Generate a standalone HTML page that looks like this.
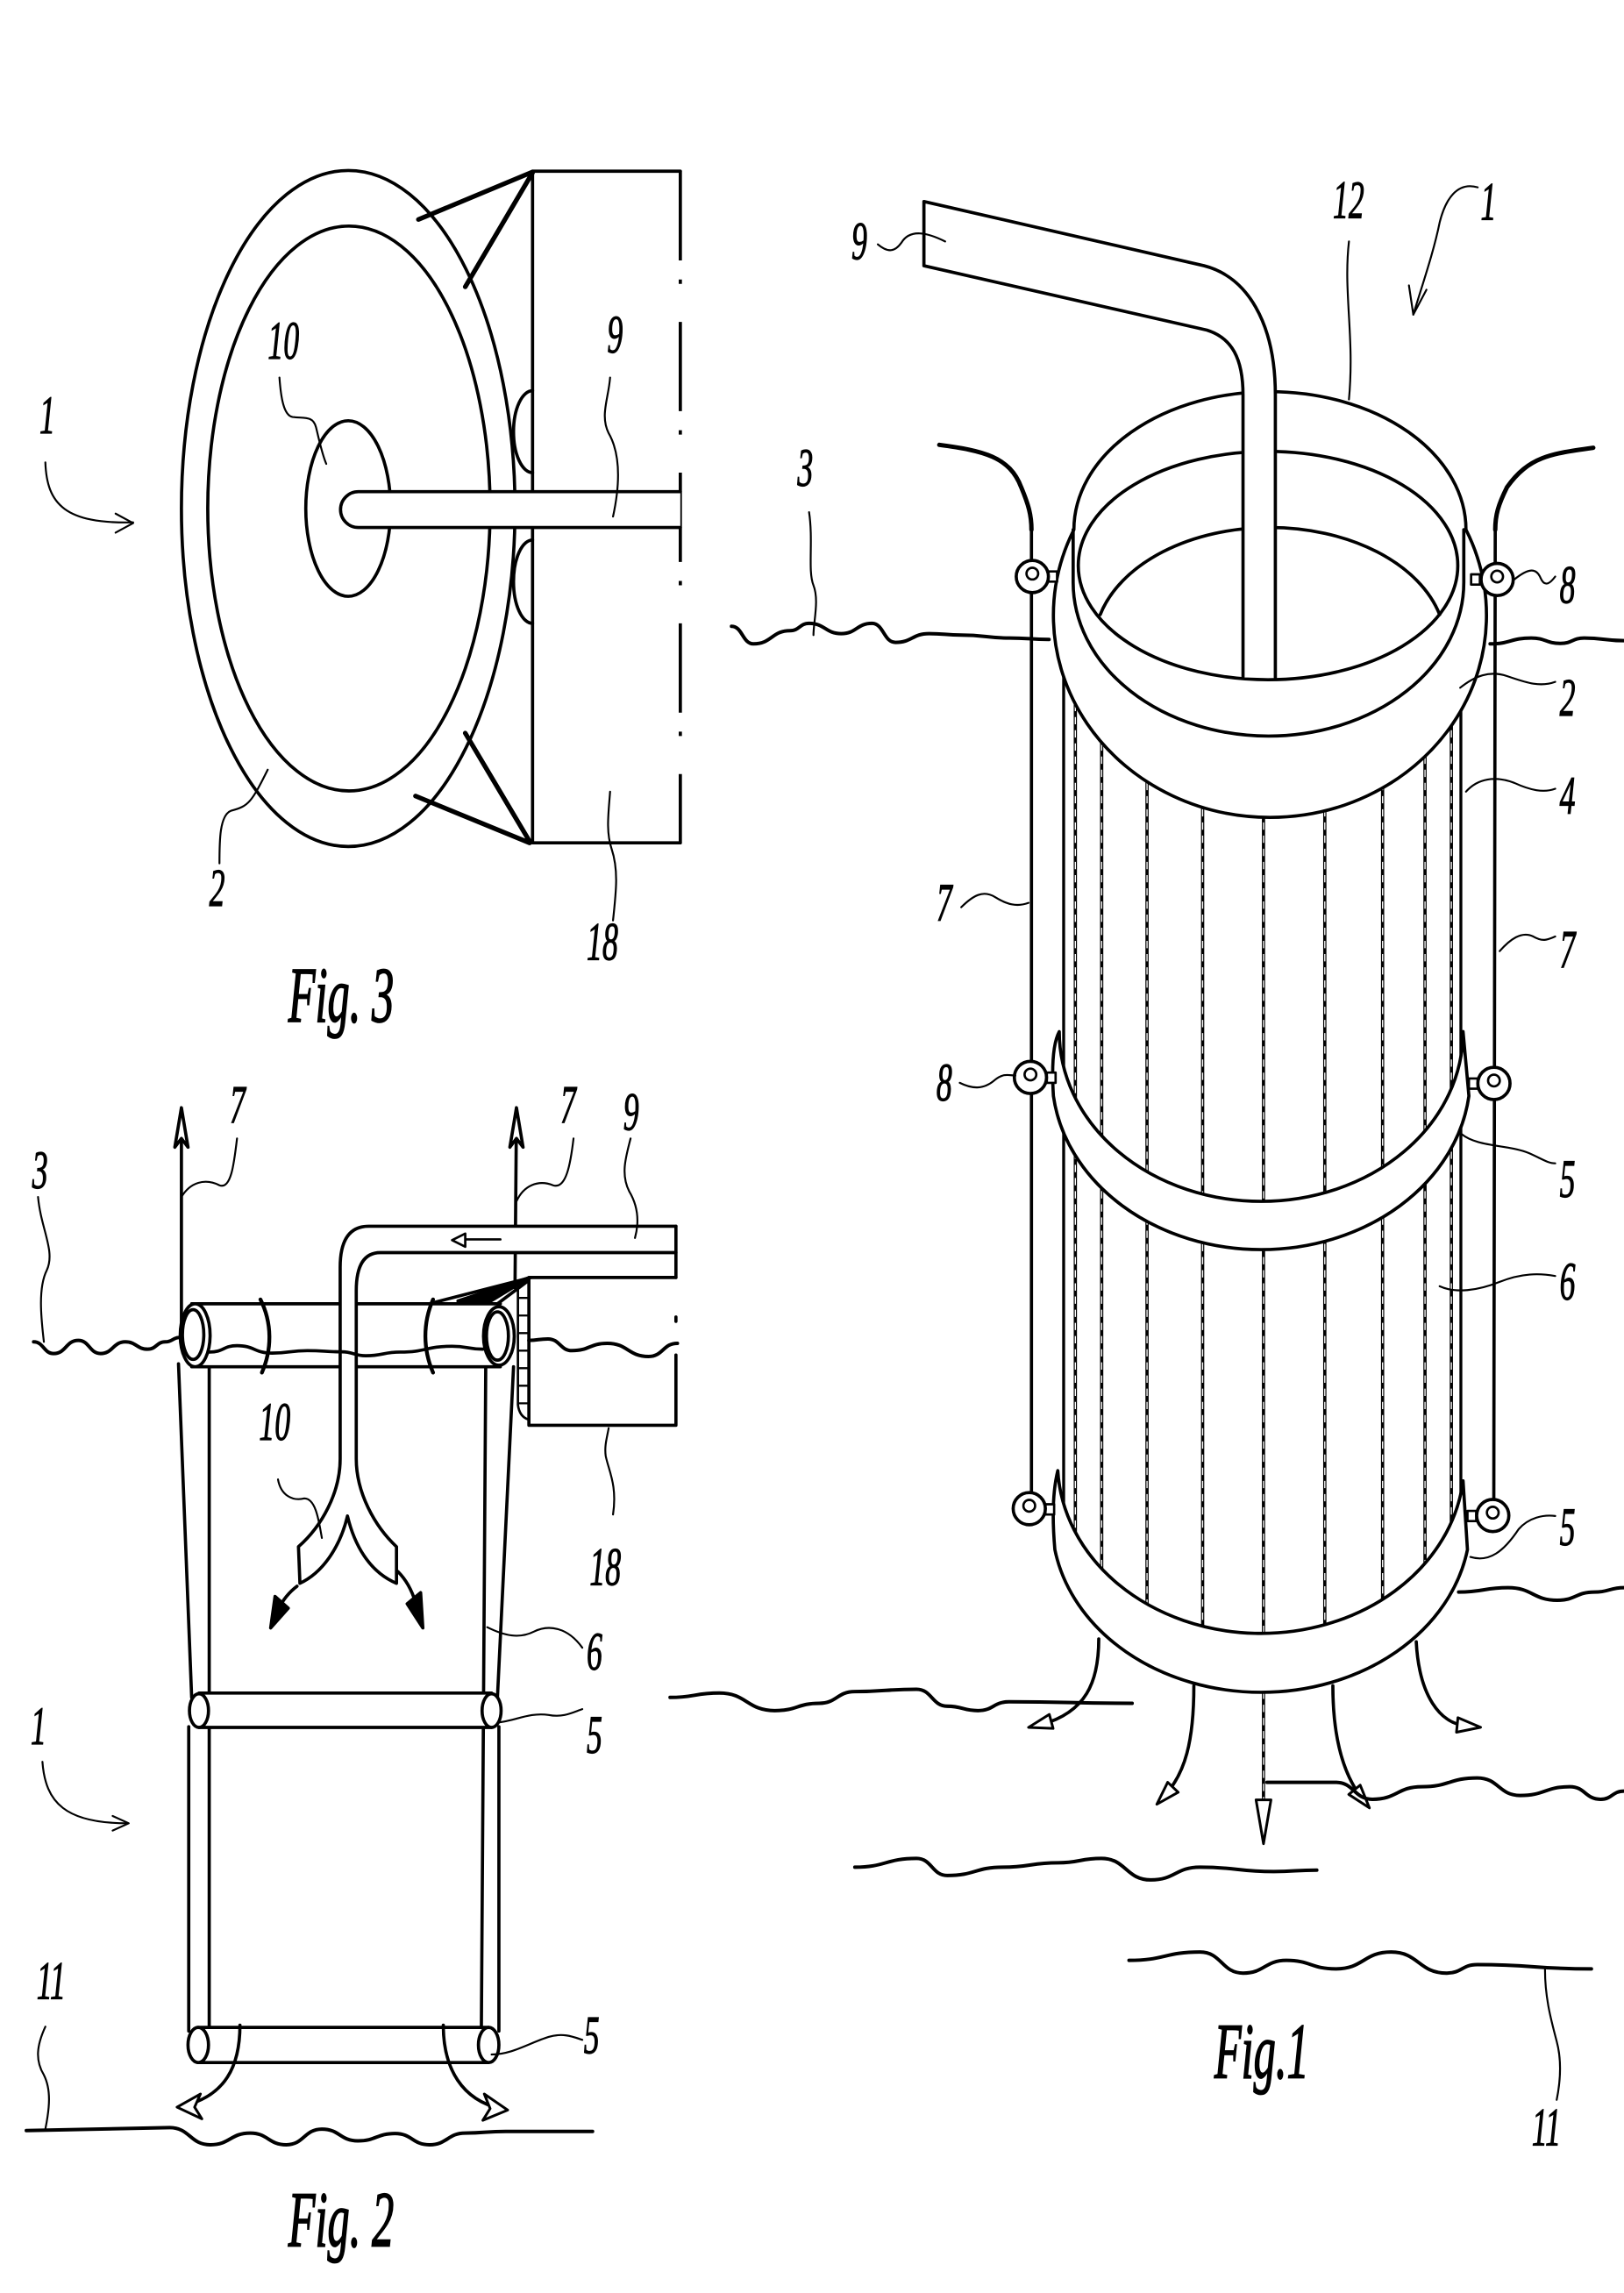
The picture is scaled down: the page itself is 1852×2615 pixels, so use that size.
<!DOCTYPE html>
<html><head><meta charset="utf-8"><style>
html,body{margin:0;padding:0;background:#fff;width:1852px;height:2615px;overflow:hidden}
svg{display:block}
.t{font-family:"Liberation Serif","DejaVu Serif",serif;font-style:italic;font-size:37px;fill:#000;stroke:#000;stroke-width:0.7}
.f{font-size:54px;stroke-width:1.1}
</style></head><body>
<svg xmlns="http://www.w3.org/2000/svg" width="1852" height="2615" viewBox="0 0 1110 1567" preserveAspectRatio="none">
<rect x="0" y="0" width="1110" height="1567" fill="#fff"/>
<g fill="none" stroke="#000" stroke-width="2.2" stroke-linecap="round" stroke-linejoin="round">

<!-- ================= FIG 3 ================= -->
<ellipse cx="238" cy="347.5" rx="114" ry="231"/>
<ellipse cx="238.5" cy="347.5" rx="96.5" ry="193"/>
<ellipse cx="238" cy="347.5" rx="29" ry="60"/>
<path d="M364,117 L465,117 M364,117 L364,576 L465,576"/>
<path d="M465,117 L465,576" stroke-linecap="butt" stroke-dasharray="61 13 3 26"/>
<path d="M364,267 A13,28 0 0 0 364,323 M364,369 A13,28.5 0 0 0 364,426"/>
<path d="M286,150 L364,117.5 M318,196 L364,118 M284,544 L362,576 M318,501 L362,575" stroke-width="3.2"/>
<path d="M465,336 L245,336 A12.2,12.2 0 0 0 245,360.5 L465,360.5" fill="#fff"/>
<!-- fig3 leaders -->
<g stroke-width="1.3">
<path d="M31,316 C32,345 45,358 91,357"/>
<path d="M79,351 L91,357.5 L79,364"/>
<path d="M191,258 C192,272 194,284 200,285 C208,286 214,284 216,292 C218,300 220,310 223,317"/>
<path d="M417,258 C416,272 410,284 416,296 C424,310 424,330 419,353"/>
<path d="M150,590 C150,575 150,557 158,554 C170,551 172,548 183,526"/>
<path d="M419,629 C421,610 423,595 418,580 C414,568 416,555 417,541"/>
</g>

<!-- ================= FIG 2 ================= -->
<path d="M122,932 L131,1160 M129,1180 L129,1388 M143,933 L143,1388 M332,934 L329,1388 M351,934 L340,1160 M341,1180 L341,1388"/>
<path d="M124,760 L124,905 M353,760 L352,880"/>
<path d="M119.5,784 L124,757 L128.5,784 L124,778 Z M348.5,784 L353,757 L357.5,784 L353,778 Z" fill="#fff"/>
<!-- top tube -->
<path d="M133,891 L342,891 L342,934 L133,934 Z" fill="#fff" stroke="none"/>
<path d="M131,891 L342,891 M131,934 L342,934"/>
<ellipse cx="133.4" cy="912.5" rx="10.2" ry="21.5" fill="#fff"/>
<ellipse cx="132" cy="912" rx="7.3" ry="17"/>
<ellipse cx="341" cy="913" rx="10.5" ry="20" fill="#fff"/>
<ellipse cx="340" cy="913" rx="7.5" ry="16.5"/>
<path d="M178,888 C186,904 186,922 179,938 M296,888 C289,904 289,922 296,938" stroke-width="2.6"/>
<!-- pipe 9 with Y -->
<path d="M462,838 L252,838 Q232.5,838 232.5,866 L232.5,997 C232.5,1020 220,1043 204,1057 L205,1082 C222,1074 233,1055 237.5,1036 C242,1055 252,1074 271,1082 L271,1057 C256,1043 243.5,1020 243.5,997 L243.5,882 Q243.5,856 260,856 L462,856" fill="#fff"/>
<path d="M462,838 L462,873"/>
<path d="M342,847 L317,847" stroke-width="1.6"/>
<path d="M318,843 L309,847.5 L318,852 Z" fill="#fff" stroke-width="1.6"/>
<!-- box 18 -->
<path d="M362,873 L462,873 M361.5,873 L361.5,974 L462,974 M462,926 L462,974"/>
<path d="M462,900 L462,903"/>
<path d="M354,877 L354,960 Q355,968 361,970" stroke-width="1.6"/>
<path d="M354,887 L361,887 M354,899 L361,899 M354,911 L361,911 M354,923 L361,923 M354,935 L361,935 M354,947 L361,947 M354,959 L361,959" stroke-width="1.4"/>
<path d="M297,890 L363,873 M340,891 L360,876"/>
<path d="M313,889 L362,873 L334,890 Z" fill="#000"/>
<!-- water 3 -->
<path d="M23,917 C29.85,917 29.85,925 36.7,925 C45.1,925 45.1,916 53.5,916 C61.15,916 61.15,925 68.8,925 C77.2,925 77.2,917 85.6,917 C93.3,917 93.3,922 101,922 C107,922 107,917 113,917 C118,917 118,914 123,914" stroke-width="2.4"/>
<path d="M143.4,924 C152.7,924 152.7,919.6 162,919.6 C174,919.6 174,924.7 186,924.7 C198,924.7 198,923 210,923 C221.75,923 221.75,923.8 233.5,923.8 C241.75,923.8 241.75,926.5 250,926.5 C261.8,926.5 261.8,924 273.6,924 C291.3,924 291.3,920 309,920 C319.5,920 319.5,922 330,922" stroke-width="2.2"/>
<path d="M361.5,916 C368,916 368,915 374.5,915 C382.75,915 382.75,923 391,923 C403,923 403,918 415,918 C429.15,918 429.15,927 443.3,927 C453.15,927 453.15,918 463,918" stroke-width="2.4"/>
<!-- mid ring 5 -->
<rect x="136" y="1157" width="200" height="23.5" fill="#fff" stroke="none"/>
<path d="M136,1157 L336,1157 M136,1180.5 L336,1180.5"/>
<ellipse cx="136" cy="1169" rx="6.5" ry="11.5" fill="#fff"/>
<ellipse cx="336" cy="1169" rx="6.5" ry="11.5" fill="#fff"/>
<!-- bottom ring 5 -->
<rect x="135" y="1385.5" width="200" height="24" fill="#fff" stroke="none"/>
<path d="M135,1385.5 L334,1385.5 M135,1409.5 L334,1409.5"/>
<ellipse cx="135.5" cy="1397.5" rx="7" ry="12" fill="#fff"/>
<ellipse cx="334" cy="1397.5" rx="7" ry="12" fill="#fff"/>
<!-- flow arrows Y -->
<path d="M203,1084 Q195,1090 190,1100 M272,1074 Q280,1082 284,1095"/>
<path d="M185,1112.5 L188,1091 L197,1099 Z M289,1112.5 L278.3,1096 L287.5,1088.4 Z" fill="#000"/>
<path d="M164,1384 C164,1412 154,1432 126,1439 M303,1384 C303,1414 316,1435 342,1441"/>
<path d="M137,1431 L121,1440 L138,1448 L133,1440 Z M331,1431 L347,1442 L330,1449 L335,1441 Z" fill="#fff" stroke-width="1.8"/>
<!-- seafloor 11 -->
<path d="M18,1456 L116,1454 C129.85,1454 129.85,1465.7 143.7,1465.7 C157.35,1465.7 157.35,1457.7 171,1457.7 C183.35,1457.7 183.35,1465.7 195.7,1465.7 C207.85,1465.7 207.85,1455 220,1455 C232.3,1455 232.3,1463 244.6,1463 C257.3,1463 257.3,1458 270,1458 C281.8,1458 281.8,1465.7 293.6,1465.7 C305.8,1465.7 305.8,1457.7 318,1457.7 C331.8,1457.7 331.8,1456.6 345.6,1456.6 L405,1456.6" stroke-width="2.4"/>
<g stroke-width="1.3">
<path d="M124,818 C130,808 140,805 150,810 C158,813 160,795 162,778"/>
<path d="M353,821 C358,810 368,806 378,810 C387,813 390,795 392,778"/>
<path d="M431,778 C428,790 424,802 430,814 C436,824 437,835 434,846"/>
<path d="M26,818 C28,840 38,855 32,868 C26,880 28,900 30,917"/>
<path d="M190,1011 C192,1022 200,1026 208,1024 C216,1024 218,1040 220,1051"/>
<path d="M419,1035 C422,1015 416,1005 414,995 C413,988 415,982 416,976"/>
<path d="M333,1112 C345,1118 355,1120 365,1115 C375,1110 388,1112 398,1126"/>
<path d="M341,1177 C352,1176 362,1170 375,1172 C385,1174 392,1170 398,1168"/>
<path d="M336,1404 C350,1404 362,1396 375,1392 C385,1389 392,1392 398,1394"/>
<path d="M31,1385 C25,1398 24,1408 30,1418 C35,1428 34,1440 31,1455"/>
<path d="M29,1204 C31,1232 45,1246 87,1246"/>
<path d="M77,1241 L88,1246 L77,1251"/>
</g>

<!-- ================= FIG 1 ================= -->
<path d="M500,428 C507.5,428 507.5,440 515,440 C527.5,440 527.5,431 540,431 C546.5,431 546.5,426 553,426 C564,426 564,433 575,433 C585.5,433 585.5,426 596,426 C604,426 604,439 612,439 C623.5,439 623.5,433 635,433 C646,433 646,434 657,434 C673.5,434 673.5,436 690,436 C703.5,436 703.5,437 717,437" stroke-width="2.4"/>
<path d="M1018.5,440 C1032.5,440 1032.5,436 1046.6,436 C1056.6,436 1056.6,439.7 1066.7,439.7 C1074.7,439.7 1074.7,436 1082.8,436 C1096.4,436 1096.4,437.8 1110,437.8" stroke-width="2.4"/>
<path d="M642,304 C672,308 690,312 698,333 C703,345 705,352 705,362" stroke-width="3"/>
<path d="M705,360 L705,1031"/>
<path d="M1089,306 C1060,310 1045,312 1030,333 C1024,345 1022,352 1022,362" stroke-width="3"/>
<path d="M1022,360 L1021,1036"/>
<!-- net verticals -->
<path d="M727,445 L727,1044 M998.5,445 L998.5,1039" stroke-width="2"/>
<g stroke-width="2.2">
<path d="M735,445 L735,1062 M753,445 L753,1086 M784,445 L784,1108 M822,445 L822,1123 M863.6,445 L863.6,1245 M905.5,445 L905.5,1122 M945,445 L945,1106 M974,445 L974,1083 M992,445 L992,1057"/>
</g>
<g stroke="#fff" stroke-width="0.8" stroke-dasharray="5 4" stroke-linecap="butt">
<path d="M735,445 L735,1062 M753,445 L753,1086 M784,445 L784,1108 M822,445 L822,1123 M863.6,445 L863.6,1245 M905.5,445 L905.5,1122 M945,445 L945,1106 M974,445 L974,1083 M992,445 L992,1057"/>
</g>
<!-- top ring -->
<path d="M734,362 A134,94.4 0 0 1 1002,362 A148,138 0 1 1 734,362 Z" fill="#fff"/>
<path d="M733.5,362 L733.5,398 A133.5,105 0 0 0 1000.5,398 L1000.5,362"/>
<ellipse cx="866.7" cy="386.5" rx="129.7" ry="78"/>
<path d="M752,420 A120,80 0 0 1 984,420"/>
<!-- pipe 9 -->
<path d="M631.5,137.7 L823,181.6 C852,189 871.7,220 871.7,270 L871.7,463 L849.6,463 L849.6,270 C849.6,245 842,231 825,225.6 L631.5,181.6 Z" fill="#fff" stroke="none"/>
<path d="M631.5,181.6 L631.5,137.7 L823,181.6 C852,189 871.7,220 871.7,270 L871.7,463 M849.6,463 L849.6,270 C849.6,245 842,231 825,225.6 L631.5,181.6"/>
<!-- mid ring -->
<path d="M724,705 A138,116 0 0 0 1000,705 L1004,749 A143,119 0 0 1 720,749 Q718,716 724,705 Z" fill="#fff"/>
<!-- bottom ring -->
<path d="M723,1005 A139,117 0 0 0 1000,1012 L1003,1059 A143,117 0 0 1 721,1059 Q718,1025 723,1005 Z" fill="#fff"/>
<!-- buoys 8 -->
<g>
<rect x="716.5" y="390.5" width="6" height="7" fill="#fff" stroke-width="1.6"/>
<circle cx="705.6" cy="394" r="11" fill="#fff"/><circle cx="705.6" cy="392" r="4" stroke-width="1.6"/>
<rect x="1005.5" y="392.5" width="6" height="7" fill="#fff" stroke-width="1.6"/>
<circle cx="1023.3" cy="396" r="11" fill="#fff"/><circle cx="1023.3" cy="394" r="4" stroke-width="1.6"/>
<rect x="715.5" y="733" width="6" height="7" fill="#fff" stroke-width="1.6"/>
<circle cx="704.3" cy="736.3" r="11" fill="#fff"/><circle cx="704.3" cy="734.3" r="4" stroke-width="1.6"/>
<rect x="1004" y="737" width="6" height="7" fill="#fff" stroke-width="1.6"/>
<circle cx="1021.1" cy="740.4" r="11" fill="#fff"/><circle cx="1021.1" cy="738.4" r="4" stroke-width="1.6"/>
<rect x="714.5" y="1028" width="6" height="7" fill="#fff" stroke-width="1.6"/>
<circle cx="703.5" cy="1031" r="11" fill="#fff"/><circle cx="703.5" cy="1029" r="4" stroke-width="1.6"/>
<rect x="1003" y="1032.5" width="6" height="7" fill="#fff" stroke-width="1.6"/>
<circle cx="1020.3" cy="1035.7" r="11" fill="#fff"/><circle cx="1020.3" cy="1033.7" r="4" stroke-width="1.6"/>
</g>
<!-- flow arrows -->
<path d="M751,1120 C751,1150 742,1170 712,1178.5 M816,1152 C816,1190 810,1212 796,1227 M911,1152 C911,1192 920,1215 931,1229 M968,1122 C970,1160 985,1177 1000,1179"/>
<g fill="#fff" stroke-width="1.8">
<path d="M703,1180.5 L719.8,1181.2 L717.2,1171.6 Z"/>
<path d="M790.7,1233 L805.3,1224.8 L798.1,1218 Z"/>
<path d="M863.6,1260 L858.5,1230 L868.7,1230 Z"/>
<path d="M936,1235.5 L929.7,1219.9 L921.9,1226.3 Z"/>
<path d="M1012,1180.4 L995.5,1183.8 L996.5,1173.8 Z"/>
</g>
<g stroke-width="2.4">
<path d="M458,1160 C474.8,1160 474.8,1157 491.6,1157 C510.5,1157 510.5,1169 529.5,1169 C545,1169 545,1164 560,1164 C572,1164 572,1156 584.3,1156 C605.4,1156 605.4,1154.4 626.4,1154.4 C637,1154.4 637,1166 647.5,1166 C658,1166 658,1169 668.5,1169 C679,1169 679,1163 689.6,1163 C731.7,1163 731.7,1164 773.8,1164"/>
<path d="M997,1088 C1014,1088 1014,1085 1030.8,1085 C1047.6,1085 1047.6,1093.6 1064.5,1093.6 C1077.1,1093.6 1077.1,1088 1089.8,1088 C1100,1088 1100,1085 1110,1085"/>
<path d="M866,1218 L913,1218 C925.5,1218 925.5,1229.6 938,1229.6 C955,1229.6 955,1221 971.8,1221 C990.7,1221 990.7,1215 1009.7,1215 C1024.4,1215 1024.4,1227 1039,1227 C1056,1227 1056,1221 1073,1221 C1083.5,1221 1083.5,1229.6 1094,1229.6 C1102,1229.6 1102,1224 1110,1224"/>
<path d="M584.3,1276 C605.4,1276 605.4,1270 626.4,1270 C637,1270 637,1281.7 647.5,1281.7 C666.5,1281.7 666.5,1276 685.4,1276 C704.3,1276 704.3,1273 723.3,1273 C738,1273 738,1270 752.8,1270 C769.6,1270 769.6,1284.7 786.5,1284.7 C803.4,1284.7 803.4,1276 820.2,1276 C845.5,1276 845.5,1279 870.7,1279 C885.3,1279 885.3,1278 900,1278"/>
<path d="M771.7,1339.7 C796,1339.7 796,1334 820.2,1334 C835,1334 835,1348.4 849.7,1348.4 C864.4,1348.4 864.4,1339.7 879.2,1339.7 C896,1339.7 896,1345.5 913,1345.5 C932,1345.5 932,1334 950.8,1334 C969.7,1334 969.7,1348.4 988.7,1348.4 C999.2,1348.4 999.2,1342.6 1009.7,1342.6 C1048.7,1342.6 1048.7,1345.5 1087.7,1345.5"/>
</g>
<g stroke-width="1.3">
<path d="M553,350 C556,370 552,390 556,400 C560,410 556,425 556,434"/>
<path d="M600,167 C606,172 611,173 616,166 C622,156 634,159 646,165"/>
<path d="M922,165 C918,200 926,230 922,273"/>
<path d="M1010,128 C996,124 988,136 984,152 C980,172 972,195 966,215"/>
<path d="M963,195 L966,215 L975,198"/>
<path d="M1035,396 C1045,388 1050,388 1053,395 C1056,402 1060,398 1063,394"/>
<path d="M998,470 C1008,462 1018,458 1030,462 C1042,466 1052,470 1063,466"/>
<path d="M1002,541 C1010,532 1022,530 1035,535 C1046,540 1055,542 1063,539"/>
<path d="M657,620 C665,612 672,608 680,613 C688,618 695,620 703,617"/>
<path d="M1025,650 C1032,642 1040,636 1048,640 C1055,644 1058,642 1063,640"/>
<path d="M656,740 C664,744 672,745 680,738 C686,733 690,735 694,735"/>
<path d="M999,775 C1010,784 1030,782 1045,788 C1054,792 1058,795 1063,795"/>
<path d="M984,879 C995,884 1010,882 1025,876 C1040,870 1052,870 1063,872"/>
<path d="M1005,1064 C1018,1068 1028,1060 1038,1045 C1045,1037 1055,1035 1063,1036"/>
<path d="M1056,1346 C1056,1365 1060,1380 1064,1395 C1068,1410 1066,1425 1064,1435"/>
</g>
</g>

<!-- ================= LABELS ================= -->
<text class="t" transform="translate(27,296) scale(0.58,1)">1</text>
<text class="t" transform="translate(183,245) scale(0.58,1)">10</text>
<text class="t" transform="translate(415,241) scale(0.58,1)">9</text>
<text class="t" transform="translate(143,619) scale(0.58,1)">2</text>
<text class="t" transform="translate(401,656) scale(0.58,1)">18</text>
<text class="t f" transform="translate(197,698) scale(0.56,1)">Fig. 3</text>
<text class="t" transform="translate(157,767) scale(0.58,1)">7</text>
<text class="t" transform="translate(383,767) scale(0.58,1)">7</text>
<text class="t" transform="translate(426,772) scale(0.58,1)">9</text>
<text class="t" transform="translate(22,812) scale(0.58,1)">3</text>
<text class="t" transform="translate(177,984) scale(0.58,1)">10</text>
<text class="t" transform="translate(403,1083) scale(0.58,1)">18</text>
<text class="t" transform="translate(401,1141) scale(0.58,1)">6</text>
<text class="t" transform="translate(401,1198) scale(0.58,1)">5</text>
<text class="t" transform="translate(21,1192) scale(0.58,1)">1</text>
<text class="t" transform="translate(25,1366) scale(0.58,1)">11</text>
<text class="t" transform="translate(399,1403) scale(0.58,1)">5</text>
<text class="t f" transform="translate(197,1535) scale(0.56,1)">Fig. 2</text>
<text class="t" transform="translate(582,177) scale(0.58,1)">9</text>
<text class="t" transform="translate(911,149) scale(0.58,1)">12</text>
<text class="t" transform="translate(1012,150) scale(0.58,1)">1</text>
<text class="t" transform="translate(545,332) scale(0.58,1)">3</text>
<text class="t" transform="translate(1066,412) scale(0.58,1)">8</text>
<text class="t" transform="translate(1066,489) scale(0.58,1)">2</text>
<text class="t" transform="translate(1066,556) scale(0.58,1)">4</text>
<text class="t" transform="translate(640,629) scale(0.58,1)">7</text>
<text class="t" transform="translate(1066,661) scale(0.58,1)">7</text>
<text class="t" transform="translate(640,752) scale(0.58,1)">8</text>
<text class="t" transform="translate(1066,818) scale(0.58,1)">5</text>
<text class="t" transform="translate(1066,888) scale(0.58,1)">6</text>
<text class="t" transform="translate(1066,1056) scale(0.58,1)">5</text>
<text class="t f" transform="translate(830,1420) scale(0.56,1)">Fig.1</text>
<text class="t" transform="translate(1047,1466) scale(0.58,1)">11</text>
</svg>
</body></html>
